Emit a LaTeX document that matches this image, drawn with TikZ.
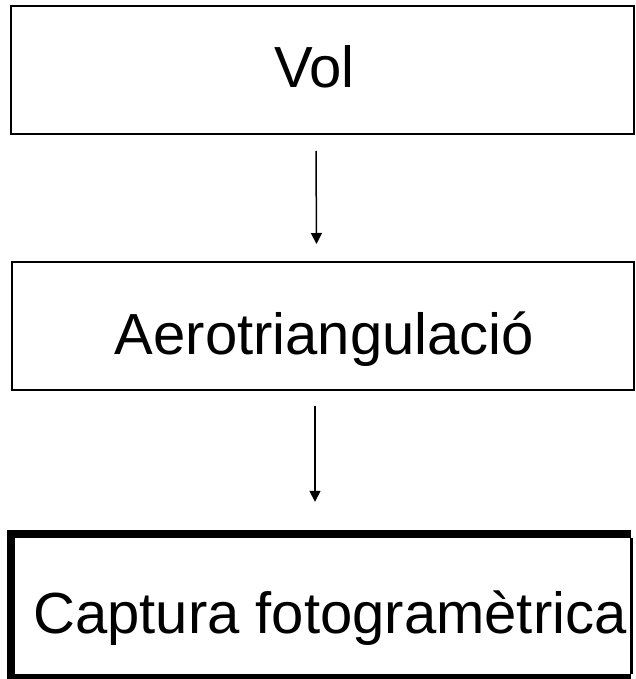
\documentclass[tikz,border=0pt]{standalone}
\usepackage{fontspec}
\setmainfont{Liberation Sans}
\usetikzlibrary{arrows.meta}
\begin{document}
\begin{tikzpicture}[x=1pt,y=-1pt,
  box/.style={draw=black,line width=2pt,rectangle,inner sep=0pt,minimum width=623pt,minimum height=128pt},
  lbl/.style={anchor=base,inner sep=0pt,font=\fontsize{58}{70}\selectfont},
  arr/.style={line width=1.5pt,-{Triangle[length=11pt,width=11pt]}}]
\useasboundingbox (0,0) rectangle (636,679);
\node[box] (b1) at (322.5,70) {};
\node[box,minimum width=622pt] (b2) at (323,326) {};
\node[rectangle,inner sep=0pt,minimum width=619.5pt,minimum height=144pt] (b3) at (321.25,606) {};
\draw[line width=8pt] (b3.north east) -- (b3.north west) -- (b3.south west) -- (b3.south east);
\draw[line width=3pt] ([yshift=-4]b3.north east) -- ([yshift=4]b3.south east);
\node[lbl] (t1) at (314.5,88) {Vol};
\node[lbl] (t2) at (324.5,354) {Aerotriangulació};
\node[lbl] (t3) at (330,633) {Captura fotogramètrica};
\draw[arr] ([shift={(-6.5,16)}]b1.south) -- ([shift={(-6.5,-17)}]b2.north);
\draw[arr] ([shift={(-8,15)}]b2.south) -- ([shift={(-6.25,-32)}]b3.north);
\end{tikzpicture}
\end{document}
